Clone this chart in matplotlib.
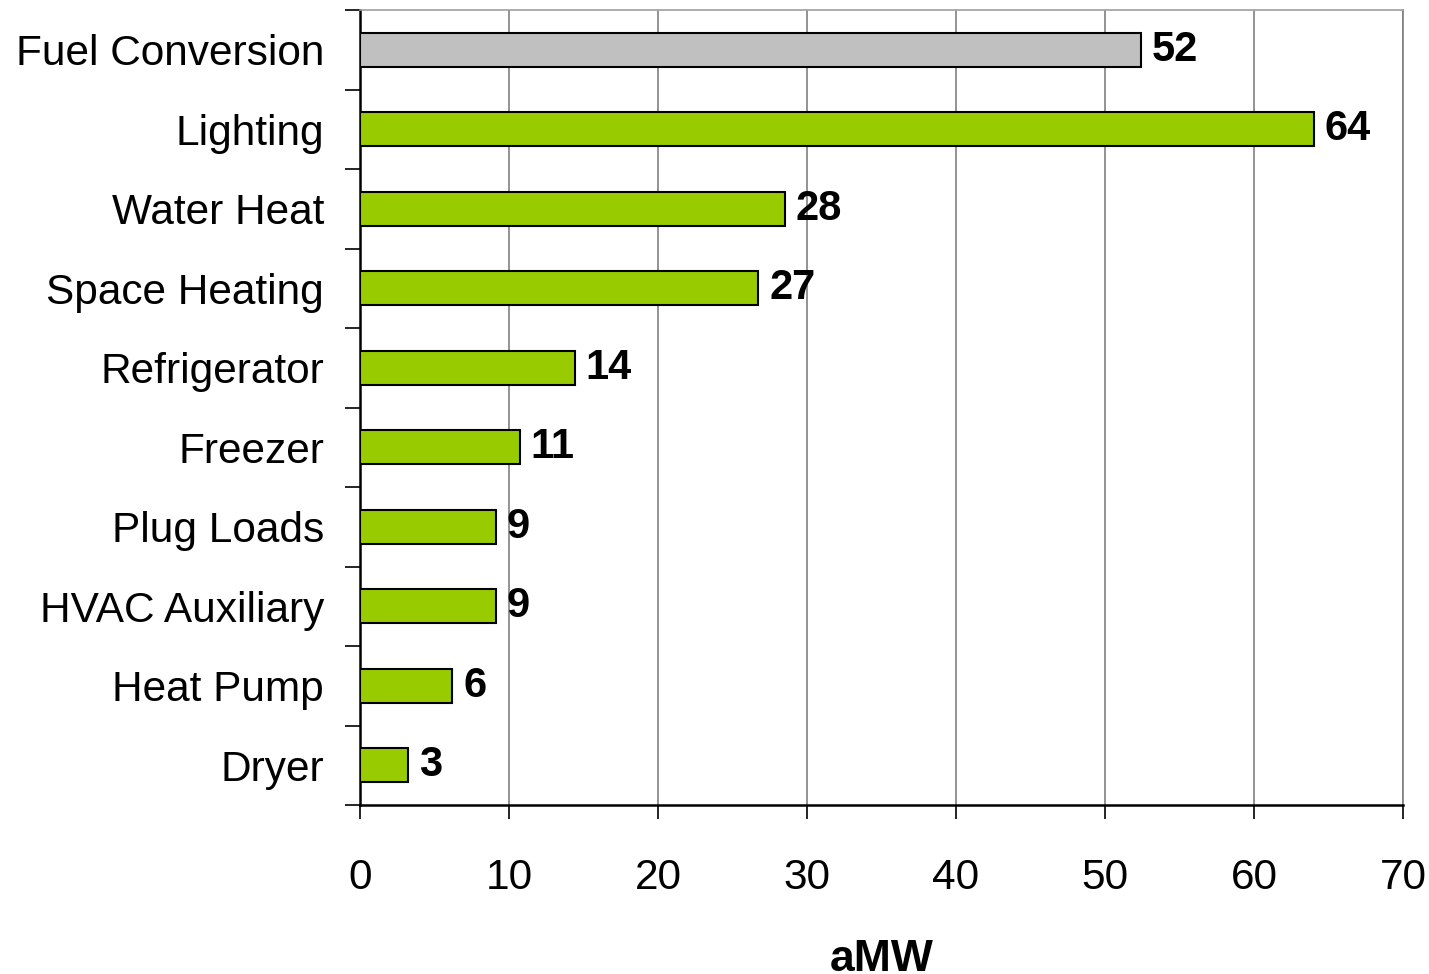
import numpy as np
import matplotlib.pyplot as plt

plt.rcParams['font.family'] = ['Liberation Sans', 'DejaVu Sans']

categories = ['Fuel Conversion', 'Lighting', 'Water Heat', 'Space Heating',
              'Refrigerator', 'Freezer', 'Plug Loads', 'HVAC Auxiliary',
              'Heat Pump', 'Dryer']
amw = [52.4, 64.0, 28.5, 26.7, 14.4, 10.7, 9.1, 9.1, 6.2, 3.2]
colors = ['#C0C0C0'] + ['#99CC00'] * 9

fig = plt.figure(figsize=(14.29, 9.74), dpi=100)
ax = fig.add_axes([0.252, 0.1735, 0.7298, 0.8162])

y = np.arange(len(categories))
ax.barh(y, amw, height=0.43, color=colors, edgecolor='black', linewidth=1.5, zorder=3)

for yi, v in zip(y, amw):
    ax.text(v + 0.75, yi, '%.0f' % v, va='center', ha='left',
            fontsize=30, fontweight='bold', zorder=4)

ax.set_xlim(0, 70)
ax.set_ylim(len(categories) - 0.5, -0.5)
ax.set_xticks(np.arange(0, 71, 10))

# category labels sit between ticks drawn at band boundaries
ax.set_yticks(y)
ax.set_yticklabels(categories, fontsize=30.5)
ax.tick_params(axis='y', which='major', length=0, pad=26)
ax.set_yticks(np.arange(-0.5, len(categories), 1), minor=True)
ax.tick_params(axis='y', which='minor', length=11, width=1.2, direction='out')

ax.tick_params(axis='x', length=10, width=1.2, labelsize=30.5, pad=28)
ax.xaxis.grid(True, color='#808080', linewidth=1.2, zorder=0)

for s in ['left', 'bottom']:
    ax.spines[s].set_linewidth(1.8)
    ax.spines[s].set_color('black')
ax.spines['top'].set_color('#A0A0A0')
ax.spines['top'].set_linewidth(1.2)
ax.spines['right'].set_color('#808080')
ax.spines['right'].set_linewidth(1.2)

ax.set_xlabel('aMW', fontsize=32, fontweight='bold', labelpad=30)

fig.savefig('out.png', dpi=100)
